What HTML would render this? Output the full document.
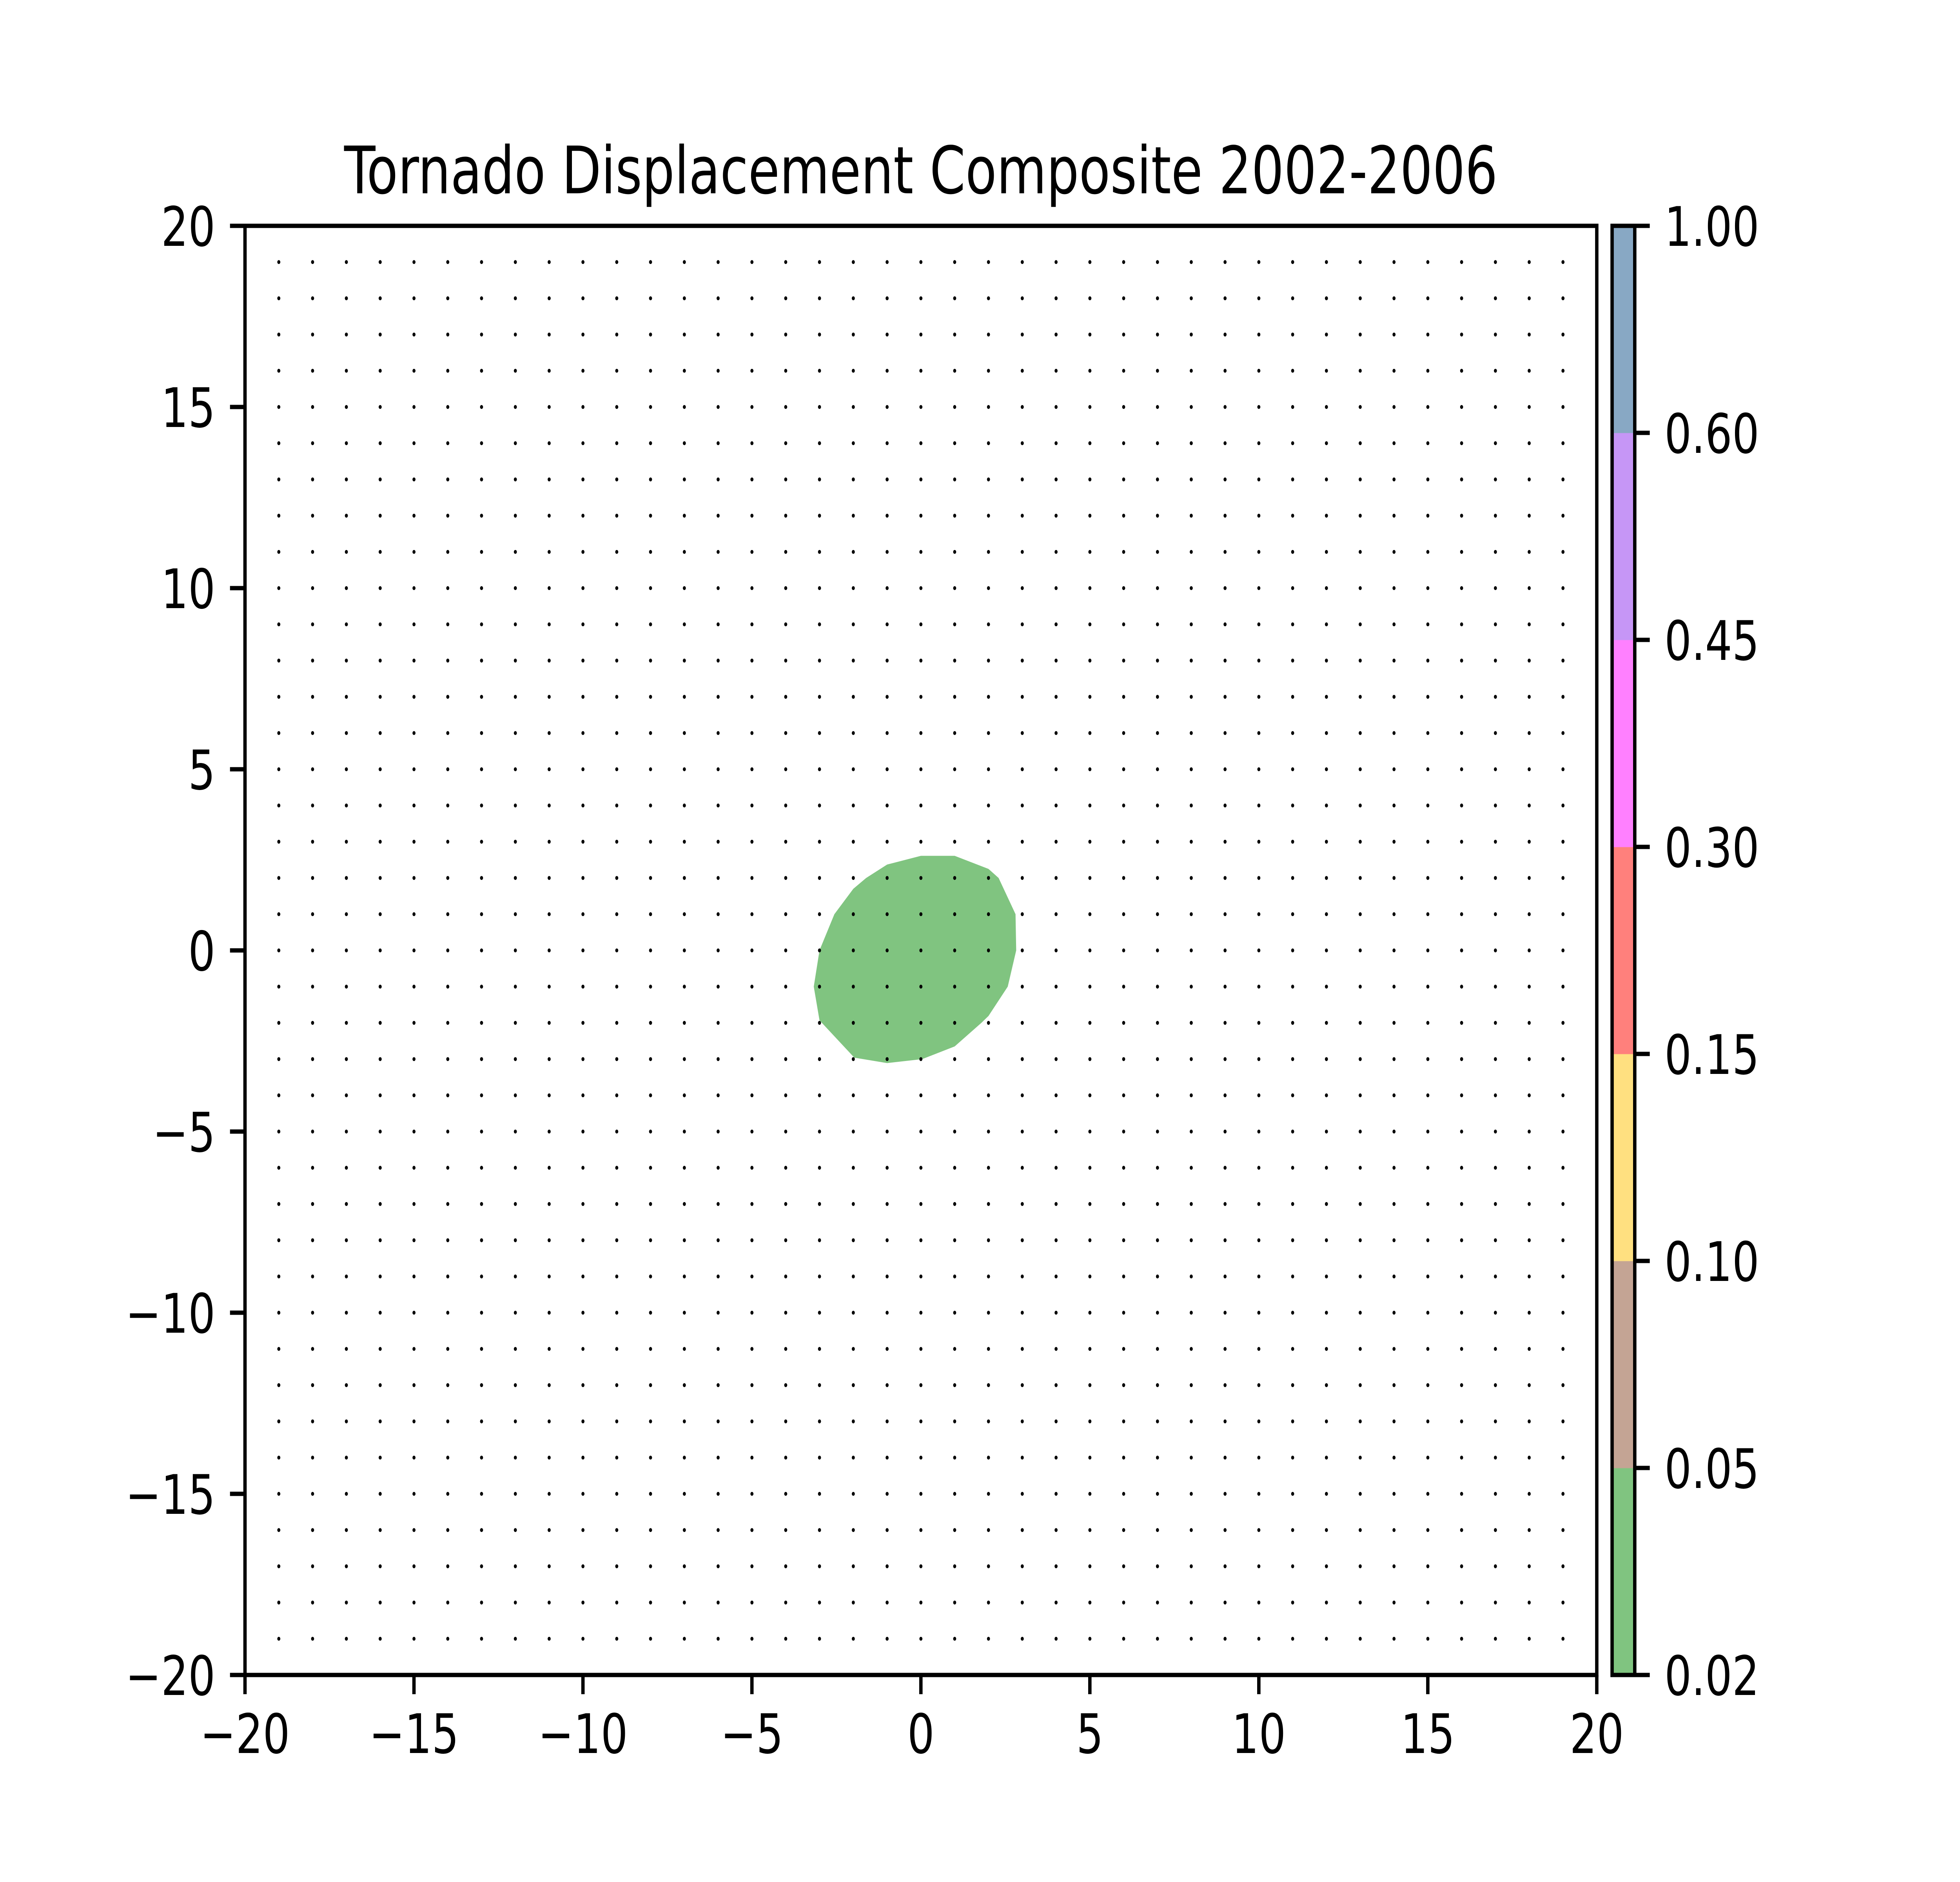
<!DOCTYPE html>
<html><head><meta charset="utf-8">
<meta name="viewport" content="width=6400, initial-scale=1">
<style>html,body{margin:0;padding:0;background:#fff;overflow:hidden;width:100vw;height:100vh;}svg{display:block;width:100vw;height:100vh;}</style>
</head><body>
<svg id="chart" viewBox="0 0 6400 4800" preserveAspectRatio="none" xmlns="http://www.w3.org/2000/svg" font-family="'DejaVu Sans','Liberation Sans',sans-serif">
<rect width="6400" height="4800" fill="#fff"/>
<text x="3007" y="493" font-size="167" text-anchor="middle">Tornado Displacement Composite 2002-2006</text>
<g id="plot"></g>
<g id="cbar"></g>
</svg>
<script>
const contourX = [0.0, 1.0, 2.0, 2.3, 2.8, 2.82, 2.57, 2.0, 1.79, 1.0, 0.04, -1.0, -1.97, -3.0, -3.17, -3.0, -2.56, -2.0, -1.62, -1.0];
const contourY = [2.61, 2.61, 2.25, 2.0, 1.0, 0.0, -1.0, -1.81, -2.0, -2.65, -3.0, -3.11, -2.96, -1.93, -1.0, 0.0, 1.0, 1.7, 2.0, 2.37];
const xTicks = [-20, -15, -10, -5, 0, 5, 10, 15, 20];
const yTicks = [-20, -15, -10, -5, 0, 5, 10, 15, 20];
const levels = ["0.02", "0.05", "0.10", "0.15", "0.30", "0.45", "0.60", "1.00"];
const levelColors = ["#80c480", "#c4a494", "#ffe080", "#ff807c", "#ff80ff", "#c696f6", "#88a8c4"];
const gridMin = -19, gridMax = 19;

const NS = "http://www.w3.org/2000/svg";
const L = 800, R = 5214, T = 576, B = 4272;
const sx = v => L + (v + 20) / 40 * (R - L);
const sy = v => B - (v + 20) / 40 * (B - T);
function mk(tag, attrs, parent) {
  const e = document.createElementNS(NS, tag);
  for (const k in attrs) e.setAttribute(k, attrs[k]);
  parent.appendChild(e);
  return e;
}
const plot = document.getElementById('plot');
const cbar = document.getElementById('cbar');
const fmt = v => (v < 0 ? '\u2212' + Math.abs(v) : String(v));

const pts = contourX.map((x, i) => sx(x).toFixed(1) + ',' + sy(contourY[i]).toFixed(1)).join(' ');
const poly = mk('polygon', {points: pts, fill: levelColors[0]}, plot);



const dots = mk('g', {fill: '#000'}, plot);


for (let gx = gridMin; gx <= gridMax; gx++) {
  for (let gy = gridMin; gy <= gridMax; gy++) {
    const c = mk('circle', {cx: sx(gx).toFixed(1), cy: sy(gy).toFixed(1), r: 5}, dots);
    
    
  }
}

const frame = mk('rect', {x: L, y: T, width: R - L, height: B - T, fill: 'none', stroke: '#000', 'stroke-width': 11}, plot);



xTicks.forEach(v => {
  const x = sx(v);
  const t = mk('line', {x1: x, x2: x, y1: B, y2: B + 49, stroke: '#000', 'stroke-width': 11}, plot);
  
  
  const lb = mk('text', {x: x, y: B + 199, 'font-size': 139, 'text-anchor': 'middle'}, plot);
  lb.textContent = fmt(v);
  
  
});
yTicks.forEach(v => {
  const y = sy(v);
  const t = mk('line', {x1: L - 49, x2: L, y1: y, y2: y, stroke: '#000', 'stroke-width': 11}, plot);
  
  
  const lb = mk('text', {x: L - 97, y: y + 51, 'font-size': 139, 'text-anchor': 'end'}, plot);
  lb.textContent = fmt(v);
  
  
});

const CL = 5264, CR = 5338;
const n = levelColors.length;
const seg = (B - T) / n;
levelColors.forEach((c, i) => {
  const r = mk('rect', {x: CL, y: B - (i + 1) * seg, width: CR - CL, height: seg + 0.5, fill: c}, cbar);
  
  
});
const cf = mk('rect', {x: CL, y: T, width: CR - CL, height: B - T, fill: 'none', stroke: '#000', 'stroke-width': 11}, cbar);


levels.forEach((lv, i) => {
  const y = B - i * seg;
  const t = mk('line', {x1: CR, x2: CR + 49, y1: y, y2: y, stroke: '#000', 'stroke-width': 11}, cbar);
  
  
  const lb = mk('text', {x: CR + 97, y: y + 51, 'font-size': 139}, cbar);
  lb.textContent = lv;
  
  
});
</script>
</body></html>
